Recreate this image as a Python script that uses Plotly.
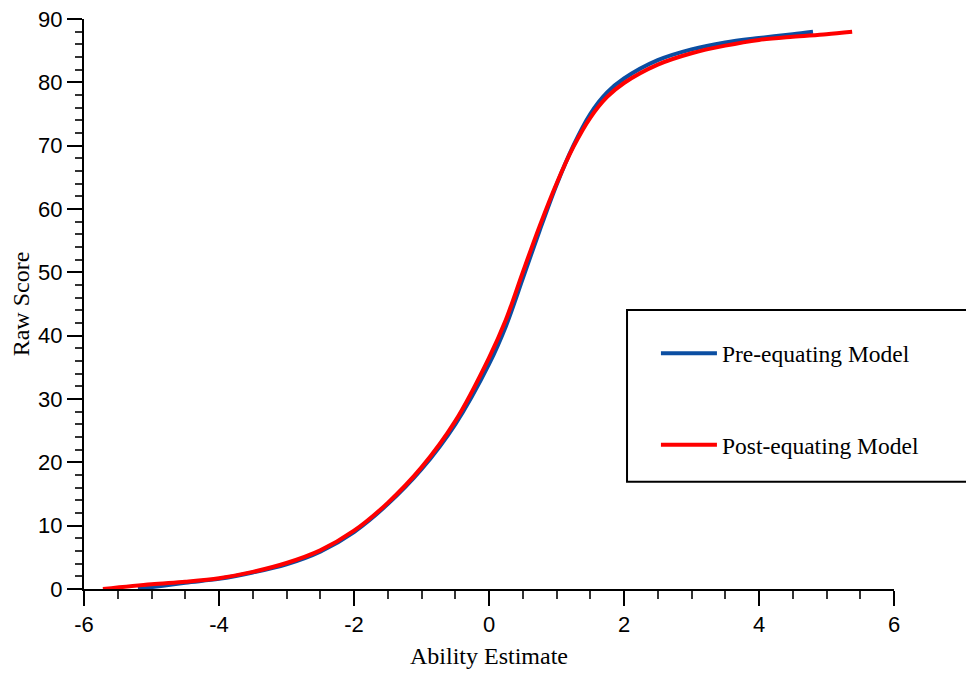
import plotly.graph_objects as go

# Post-equating model (red)
post_ability = [-5.72, -5.0, -4.5, -4.0, -3.5, -3.0, -2.5, -2.0, -1.5, -1.0, -0.5, 0.0, 0.25, 0.5,
                0.75, 1.0, 1.25, 1.5, 1.75, 2.0, 2.5, 3.0, 3.5, 4.0, 4.5, 5.0, 5.38]
post_score = [0, 0.75, 1.15, 1.7, 2.7, 4.1, 6.1, 9.2, 13.6, 19.2, 26.5, 36.5, 42.5, 50.0,
              57.3, 64.0, 69.8, 74.4, 77.7, 79.9, 82.8, 84.6, 85.8, 86.7, 87.2, 87.6, 88.0]

# Pre-equating model (blue)
pre_ability = [-5.2, -4.5, -4.0, -3.5, -3.0, -2.5, -2.0, -1.5, -1.0, -0.5, 0.0, 0.25, 0.5,
               0.75, 1.0, 1.25, 1.5, 1.75, 2.0, 2.5, 3.0, 3.5, 4.0, 4.5, 4.8]
pre_score = [0, 1.0, 1.6, 2.6, 3.9, 5.9, 9.0, 13.4, 18.9, 26.0, 35.5, 41.5, 49.0,
             56.6, 63.8, 70.0, 75.0, 78.4, 80.6, 83.5, 85.2, 86.3, 87.0, 87.6, 88.0]

x_ticks = [-6, -4, -2, 0, 2, 4, 6]
y_ticks = [0, 10, 20, 30, 40, 50, 60, 70, 80, 90]

fig = go.Figure()
fig.add_trace(go.Scatter(x=pre_ability, y=pre_score, mode="lines", name="Pre-equating Model",
                         line=dict(color="#0B4EA2", width=4, shape="spline", smoothing=0.9),
                         legendgroup="a"))
fig.add_trace(go.Scatter(x=post_ability, y=post_score, mode="lines", name="Post-equating Model",
                         line=dict(color="#FF0000", width=4, shape="spline", smoothing=0.9),
                         legendgroup="b"))

# legend frame
fig.add_shape(type="rect", xref="paper", yref="paper",
              x0=0.6704, x1=1.0963, y0=0.1883, y1=0.4895,
              line=dict(color="black", width=2), fillcolor="rgba(0,0,0,0)", layer="above")

axis_common = dict(showline=True, linecolor="black", linewidth=2, ticks="outside",
                   ticklen=15, tickwidth=2, tickcolor="black", showgrid=False, zeroline=False,
                   automargin=False, ticklabeloverflow="allow",
                   tickfont=dict(family="Liberation Sans, Arial", size=22, color="black"))

fig.update_layout(
    width=974, height=673,
    margin=dict(l=76, r=88, t=10.5, b=91.5),
    paper_bgcolor="white", plot_bgcolor="white",
    xaxis=dict(range=[-6, 6], tickvals=x_ticks, ticktext=[str(v) for v in x_ticks],
               title=dict(text="Ability Estimate", standoff=11,
                          font=dict(family="Liberation Serif, Times New Roman", size=24, color="black")),
               minor=dict(dtick=0.5, tick0=0, ticks="outside", ticklen=8, tickwidth=1.5, tickcolor="#333"),
               **axis_common),
    yaxis=dict(range=[0, 90], tickvals=y_ticks, ticktext=[str(v) for v in y_ticks],
               title=dict(text="Raw Score", standoff=8,
                          font=dict(family="Liberation Serif, Times New Roman", size=24, color="black")),
               minor=dict(dtick=2, tick0=0, ticks="outside", ticklen=7, tickwidth=1.5, tickcolor="#333"),
               **axis_common),
    showlegend=True,
    legend=dict(x=0.7061, y=0.452, xanchor="left", yanchor="top",
                bgcolor="rgba(0,0,0,0)", borderwidth=0,
                font=dict(family="Liberation Serif, Times New Roman", size=23.5, color="black"),
                tracegroupgap=58, itemwidth=56),
)

fig.write_html("out.html")
